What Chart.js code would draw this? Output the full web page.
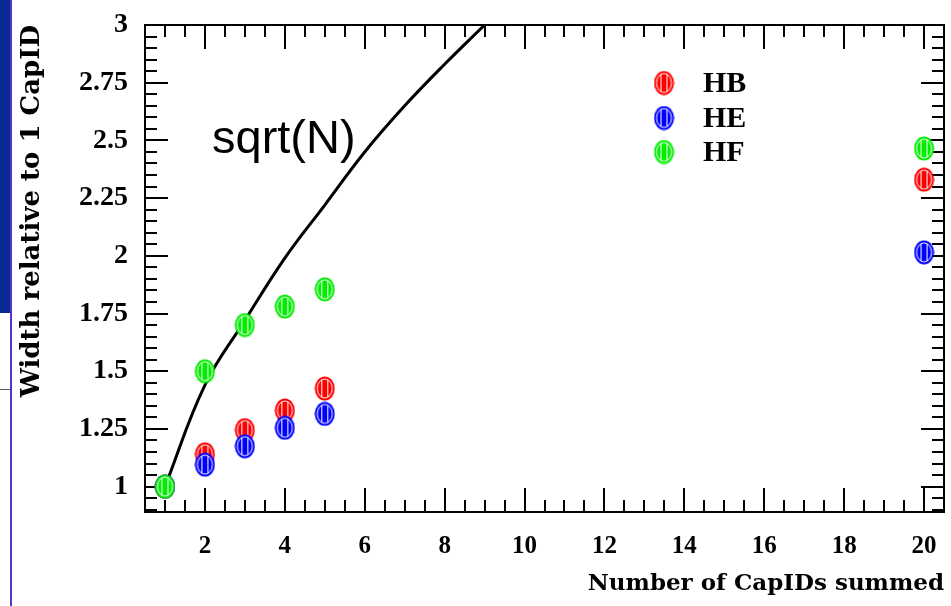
<!DOCTYPE html>
<html>
<head>
<meta charset="utf-8">
<script src="https://cdn.jsdelivr.net/npm/chart.js@4.4.1/dist/chart.umd.min.js"></script>
<style>
  body { margin: 0; background: #fff; }
  #wrap { position: relative; width: 951px; height: 606px; }
  .deco { position: absolute; }
</style>
</head>
<body>
<div id="wrap">
  <canvas id="Cnvs1" width="951" height="606"></canvas>
  <div class="deco" style="left:0;top:0;width:11px;height:313px;background:#0b2a94;"></div>
  <div class="deco" style="left:10px;top:0;width:2px;height:606px;background:#5b32c8;"></div>
  <div class="deco" style="left:0;top:389px;width:10px;height:1px;background:#555;"></div>
</div>
<script>
// values
var capIds = [1, 2, 3, 4, 5, 20];
var hbWidth = [1.0, 1.14, 1.245, 1.33, 1.425, 2.33];
var heWidth = [1.0, 1.095, 1.175, 1.255, 1.315, 2.015];
var hfWidth = [1.0, 1.5, 1.70, 1.78, 1.855, 2.465];
var curveN = [1, 2, 3, 4, 5, 6, 7, 8, 9];
var curveWidth = [1.0, 1.44, 1.72, 1.99, 2.22, 2.45, 2.65, 2.83, 3.0];
var xTicks = [2, 4, 6, 8, 10, 12, 14, 16, 18, 20];
var yTicks = [1, 1.25, 1.5, 1.75, 2, 2.25, 2.5, 2.75, 3];

function pts(xs, ys) {
  return xs.map(function(v, i) { return {x: v, y: ys[i]}; });
}

// striped oval marker like the original
function marker(col) {
  var c = document.createElement('canvas');
  c.width = 21; c.height = 25;
  var g = c.getContext('2d');
  g.fillStyle = col;
  g.beginPath(); g.ellipse(10.5, 12.5, 10, 12, 0, 0, Math.PI * 2); g.fill();
  g.strokeStyle = '#fff';
  g.lineWidth = 1;
  g.beginPath(); g.ellipse(10.5, 12.5, 7.5, 9.5, 0, 0, Math.PI * 2); g.stroke();
  g.beginPath();
  g.moveTo(7.5, 4); g.lineTo(7.5, 21);
  g.moveTo(13.5, 4); g.lineTo(13.5, 21);
  g.stroke();
  return c;
}

var frameTicks = {
  id: 'frameTicks',
  beforeDatasetsDraw: function(chart) {
    var ctx = chart.ctx, a = chart.chartArea, x = chart.scales.x, y = chart.scales.y;
    ctx.save();
    ctx.strokeStyle = '#000';
    ctx.lineWidth = 2;
    ctx.beginPath();
    for (var i = 1; i <= 41; i++) {
      var v = i * 0.5;
      var px = Math.round(x.getPixelForValue(v));
      var len = (i % 4 === 0) ? 24 : 12;
      ctx.moveTo(px, a.bottom); ctx.lineTo(px, a.bottom - len);
      ctx.moveTo(px, a.top); ctx.lineTo(px, a.top + len);
    }
    for (var j = 18; j <= 60; j++) {
      var w = j * 0.05;
      var py = Math.round(y.getPixelForValue(w));
      var l2 = (j % 5 === 0) ? 23 : 12;
      ctx.moveTo(a.left, py); ctx.lineTo(a.left + l2, py);
      ctx.moveTo(a.right, py); ctx.lineTo(a.right - l2, py);
    }
    ctx.stroke();
    ctx.strokeRect(a.left, a.top, a.right - a.left, a.bottom - a.top);
    ctx.restore();
  },
  afterDraw: function(chart) {
    var ctx = chart.ctx;
    ctx.save();
    ctx.fillStyle = '#000';
    // curve label
    ctx.font = '47px "Liberation Sans"';
    ctx.textBaseline = 'alphabetic';
    ctx.fillText(chart.data.datasets[3].label, 212, 153);
    // legend
    ctx.font = 'bold 30px "Liberation Serif"';
    ctx.textBaseline = 'middle';
    var rows = [83, 118, 152];
    for (var k = 0; k < 3; k++) {
      var ds = chart.data.datasets[k];
      ctx.drawImage(ds.pointStyle, 664 - 10.5, rows[k] - 12.5);
      ctx.fillText(ds.label, 703, rows[k] + 1);
    }
    ctx.restore();
  }
};

var Cnvs = document.getElementById('Cnvs1').getContext('2d');
var scatterChart = new Chart(Cnvs, {
  type: 'scatter',
  data: {
    datasets: [
      { label: 'HB', data: pts(capIds, hbWidth), pointStyle: marker('#ff0000'), order: 2 },
      { label: 'HE', data: pts(capIds, heWidth), pointStyle: marker('#0000ff'), order: 1 },
      { label: 'HF', data: pts(capIds, hfWidth), pointStyle: marker('#00ee00'), order: 0 },
      { label: 'sqrt(N)', type: 'line', data: pts(curveN, curveWidth), showLine: true,
        borderColor: '#000', borderWidth: 3, pointRadius: 0, tension: 0.4, order: 3 }
    ]
  },
  options: {
    responsive: false,
    animation: false,
    layout: { padding: { top: 25, right: 7, left: 0, bottom: 0 } },
    plugins: { legend: { display: false }, tooltip: { enabled: false } },
    scales: {
      x: {
        type: 'linear', min: 0.5, max: 20.5,
        grid: { display: false }, border: { display: false },
        afterBuildTicks: function(s) { s.ticks = xTicks.map(function(v) { return {value: v}; }); },
        afterFit: function(s) { s.height = 94; s.paddingLeft = 0; s.paddingRight = 0; },
        ticks: { padding: 12, color: '#000', font: { family: 'Liberation Serif', weight: 'bold', size: 25 },
                 callback: function(v) { return String(v); } },
        title: { display: true, text: 'Number of CapIDs summed', align: 'end', color: '#000',
                 padding: { top: 0, bottom: 8 }, font: { family: 'DejaVu Serif', weight: 'bold', size: 23 } }
      },
      y: {
        min: 0.89, max: 3,
        grid: { display: false }, border: { display: false },
        afterBuildTicks: function(s) { s.ticks = yTicks.map(function(v) { return {value: v}; }); },
        afterFit: function(s) { s.width = 145; s.paddingTop = 0; s.paddingBottom = 0; },
        ticks: { padding: 9, color: '#000', font: { family: 'Liberation Serif', weight: 'bold', size: 28 },
                 callback: function(v) { return String(v); } },
        title: { display: true, text: 'Width relative to 1 CapID', align: 'end', color: '#000',
                 padding: { top: 17, bottom: 0 }, font: { family: 'DejaVu Serif', weight: 'bold', size: 26 } }
      }
    }
  },
  plugins: [frameTicks]
});
</script>
</body>
</html>
